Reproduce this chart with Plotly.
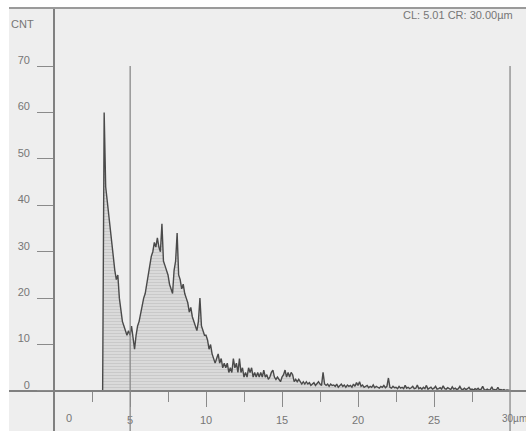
import plotly.graph_objects as go

# ---- data ----
bin_start = 3.2      # µm, first bin
bin_step = 0.1       # µm
cnt_3_5 = [0, 60, 44, 41, 38, 35, 31, 29,
           26, 24, 25, 20, 17, 15, 14, 13, 12, 13,
           12, 14, 11, 9, 12, 14, 15, 17, 18, 20]
cnt_6_8 = [21, 23, 25, 27, 29, 30, 32, 31, 33, 31,
           30, 36, 28, 27, 26, 25, 23, 22, 21, 26,
           28, 34, 25, 24, 22, 23, 21, 20, 19, 17]
cnt_9_11 = [18, 16, 15, 14, 13, 15, 20, 14, 13, 12,
            12, 11, 9, 10, 8, 7, 6, 7, 8, 6,
            7, 5, 6, 5, 6, 4, 5, 4, 7, 5]
cnt_12_14 = [6, 4, 7, 4, 5, 3, 4, 3, 5, 4,
             5, 3, 4, 3, 4, 3, 4, 3, 4.5, 3,
             3.5, 2.5, 3, 4, 4.5, 3, 2.5, 3, 2.5, 2]
cnt_15_17 = [3, 3.5, 4.5, 3, 4, 3, 4, 3.5, 2, 2.5,
             2, 2.5, 2, 1.5, 2, 1.5, 2, 1.5, 1.8, 1.2,
             1.5, 1.8, 1.2, 1.5, 2, 1.5, 1.2, 4, 1.5, 1.2]
cnt_18_22 = [1.5, 1, 1.5, 1.2, 1.3, 1, 1.5, 0.8, 1.2, 1.5,
             1, 1.3, 0.8, 1.3, 1, 1.2, 0.8, 1.5, 1, 1.8,
             1.2, 2, 1, 1.3, 0.8, 1, 1.2, 0.7, 1, 0.8,
             1.3, 0.7, 1, 0.8, 0.6, 1, 0.8, 1.2, 0.7, 1,
             2.8, 0.8, 0.6, 1, 0.7]
cnt_22_30 = [0.8, 0.5, 1.0, 0.6, 0.8, 0.5, 1.2, 0.6, 0.8, 0.5,
             0.7, 1.0, 0.5, 0.6, 1.3, 0.5, 0.7, 0.4, 0.8, 0.5,
             1.2, 0.4, 0.6, 0.8, 0.4, 0.6, 1.0, 0.4, 0.5, 0.7,
             0.4, 1.1, 0.5, 0.4, 0.7, 0.5, 0.3, 0.9, 0.4, 0.6,
             0.3, 0.5, 1.0, 0.4, 0.3, 0.6, 0.3, 0.5, 0.8, 0.3,
             0.4, 0.2, 0.5, 0.3, 0.6, 0.2, 0.4, 1.0, 0.3, 0.2,
             0.4, 0.2, 0.3, 0.9, 0.2, 0.3, 0.2, 0.8, 0.2, 0.3,
             0.2, 0.3, 0.1, 0.2, 0.1, 0.1]
counts = cnt_3_5 + cnt_6_8 + cnt_9_11 + cnt_12_14 + cnt_15_17 + cnt_18_22 + cnt_22_30
sizes = [round(bin_start + bin_step * i, 2) for i in range(len(counts))]

cursor_left = 5.01
cursor_right = 30.0
cursor_top = 70
y_ticks = [0, 10, 20, 30, 40, 50, 60, 70]
x_major = [5, 10, 15, 20, 25]
x_labels = ["5", "10", "15", "20", "25"]
x_minor = [2.5, 7.5, 12.5, 17.5, 22.5, 27.5]

X_RANGE = [-2.96, 31.05]
Y_RANGE = [-8.62, 82.5]
GRAY = "rgb(118,118,118)"
FONT = "Liberation Sans Narrow, Liberation Sans, Arial"

fig = go.Figure()
fig.add_trace(go.Scatter(
    x=sizes, y=counts, mode="lines",
    line=dict(color="#4a4a4a", width=1.4),
    fill="tozeroy",
    fillcolor="#d4d4d4",
    fillpattern=dict(shape="-", fgcolor="#b8b8b8", bgcolor="#dadada", size=3, solidity=0.35),
    hoverinfo="skip", showlegend=False,
))

# cursor lines
for cx in (cursor_left, cursor_right):
    fig.add_shape(type="line", xref="x", yref="y", x0=cx, x1=cx,
                  y0=Y_RANGE[0], y1=cursor_top,
                  line=dict(color="#8a8a8a", width=1.3))

# top frame line
fig.add_shape(type="line", xref="paper", yref="paper", x0=0, x1=1, y0=1, y1=1,
              line=dict(color="#9a9a9a", width=2))

ann_font = dict(family=FONT, size=11, color=GRAY)
fig.add_annotation(x=-2.1, y=79.1, text="CNT", showarrow=False, font=ann_font)
fig.add_annotation(x=26.6, y=81.0,
                   text=f"CL: {cursor_left:.2f} CR: {cursor_right:.2f}µm",
                   showarrow=False, font=ann_font)
fig.add_annotation(x=0.99, y=-5.9, text="0", showarrow=False, font=ann_font)
fig.add_annotation(x=29.35, y=-5.9, text="30µm", showarrow=False,
                   font=dict(family=FONT, size=10, color=GRAY), xanchor="left")

fig.update_layout(
    width=526, height=431,
    margin=dict(l=9, r=0, t=8, b=0),
    paper_bgcolor="white",
    plot_bgcolor="#eeeeee",
    font=dict(family=FONT, color=GRAY),
    xaxis=dict(
        range=X_RANGE, showgrid=False, zeroline=False,
        anchor="free", position=(0 - Y_RANGE[0]) / (Y_RANGE[1] - Y_RANGE[0]),
        showline=True, linecolor="#808080", linewidth=1.6,
        tickmode="array", tickvals=x_major, ticktext=x_labels,
        ticks="outside", ticklen=15, tickwidth=1.2, tickcolor="#8a8a8a",
        minor=dict(tickmode="array", tickvals=x_minor, ticks="outside",
                   ticklen=10, tickwidth=1.2, tickcolor="#8a8a8a"),
        tickfont=dict(family=FONT, size=11, color=GRAY),
        ticklabelstandoff=4,
    ),
    yaxis=dict(
        range=Y_RANGE, showgrid=False, zeroline=False,
        anchor="free", position=(0 - X_RANGE[0]) / (X_RANGE[1] - X_RANGE[0]),
        showline=True, linecolor="#808080", linewidth=1.6,
        tickmode="array", tickvals=y_ticks, ticktext=[str(v) for v in y_ticks],
        ticks="outside", ticklen=16, tickwidth=1.2, tickcolor="#8a8a8a",
        tickfont=dict(family=FONT, size=11, color=GRAY),
        ticklabelstandoff=5, ticklabelshift=-6,
    ),
)

fig.write_html("out.html")
